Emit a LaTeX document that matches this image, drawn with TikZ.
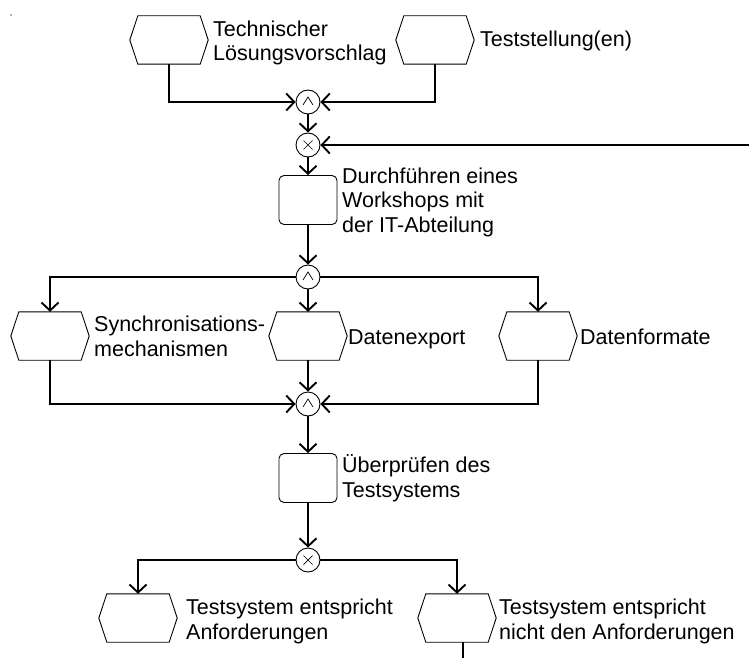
\documentclass[tikz,border=0pt]{standalone}
\usepackage{fontspec}
\setmainfont{Liberation Sans}
\usetikzlibrary{arrows.meta}
\begin{document}
\begin{tikzpicture}[x=1pt,y=-1pt,
  conn/.style={line width=1.9pt},
  arr/.style={-{Straight Barb[length=8pt,width=17pt]}},
  evt/.style={minimum width=78pt,minimum height=48pt,inner sep=0pt},
  evtline/.style={line width=0.9pt},
  fn/.style={draw,line width=0.9pt,rounded corners=5pt,minimum width=58pt,minimum height=49pt,inner sep=0pt},
  gate/.style={draw,line width=0.9pt,circle,minimum size=24pt,inner sep=0pt,fill=white},
  andg/.style={gate,path picture={
    \draw[line width=0.7pt]
      ([shift={(-5pt,-3pt)}]path picture bounding box.center) --
      ([shift={(0pt,5pt)}]path picture bounding box.center) --
      ([shift={(5pt,-3pt)}]path picture bounding box.center);}},
  xorg/.style={gate,path picture={
    \draw[line width=0.7pt]
      ([shift={(-4.5pt,-4.5pt)}]path picture bounding box.center) --
      ([shift={(4.5pt,4.5pt)}]path picture bounding box.center)
      ([shift={(-4.5pt,4.5pt)}]path picture bounding box.center) --
      ([shift={(4.5pt,-4.5pt)}]path picture bounding box.center);}},
  lbl/.style={anchor=base west,inner sep=0pt,align=left,font=\fontsize{21.5}{24.5}\selectfont}
]
\useasboundingbox (0,0) rectangle (749,658);
\fill[gray!60] (10,14) rectangle (12,16);

% events
\node[evt] (e1) at (169,40) {};
\node[evt] (e2) at (435,40) {};
\node[evt] (e3) at (50,336) {};
\node[evt] (e4) at (308,336) {};
\node[evt] (e5) at (538,336) {};
\node[evt] (e6) at (138,618) {};
\node[evt] (e7) at (457,618) {};
\foreach \n in {e1,e2,e3,e4,e5,e6,e7}
  \draw[evtline] (\n.west) -- ([xshift=8pt]\n.north west) -- ([xshift=-8pt]\n.north east)
    -- (\n.east) -- ([xshift=-8pt]\n.south east) -- ([xshift=8pt]\n.south west) -- cycle;

% functions
\node[fn] (f1) at (308,200) {};
\node[fn] (f2) at (308,478) {};

% connectors
\node[andg] (a1) at (308,102) {};
\node[xorg] (x1) at (308,145) {};
\node[andg] (a2) at (308,277) {};
\node[andg] (a3) at (308,404) {};
\node[xorg] (x2) at (308,560) {};

\coordinate (rin) at (749,145);
\coordinate (bout) at (463,658);

% control flow
\draw[conn,arr] (e1.south) |- (a1.west);
\draw[conn,arr] (e2.south) |- (a1.east);
\draw[conn,arr] (a1.south) -- (x1.north);
\draw[conn,arr] (rin) -- (x1.east);
\draw[conn,arr] (x1.south) -- (f1.north);
\draw[conn,arr] (f1.south) -- (a2.north);
\draw[conn,arr] (a2.west) -| (e3.north);
\draw[conn,arr] (a2.south) -- (e4.north);
\draw[conn,arr] (a2.east) -| (e5.north);
\draw[conn,arr] (e3.south) |- (a3.west);
\draw[conn,arr] (e4.south) -- (a3.north);
\draw[conn,arr] (e5.south) |- (a3.east);
\draw[conn,arr] (a3.south) -- (f2.north);
\draw[conn,arr] (f2.south) -- (x2.north);
\draw[conn,arr] (x2.west) -| (e6.north);
\draw[conn,arr] (x2.east) -| (e7.north);
\draw[conn] (e7.south -| bout) -- (bout);

% labels (anchored at the baseline of the last line)
\node[lbl] (t1) at (213,61) {Technischer\\Lösungsvorschlag};
\node[lbl] (t2) at (480,47) {Teststellung(en)};
\node[lbl] (t3) at (342,232) {Durchführen eines\\Workshops mit\\der IT-Abteilung};
\node[lbl] (t4) at (94,356) {Synchronisations-\\mechanismen};
\node[lbl] (t5) at (348,344) {Datenexport};
\node[lbl] (t6) at (580,344) {Datenformate};
\node[lbl] (t7) at (342,497) {Überprüfen des\\Testsystems};
\node[lbl] (t8) at (186,639) {Testsystem entspricht\\Anforderungen};
\node[lbl] (t9) at (499,639) {Testsystem entspricht\\nicht den Anforderungen};
\end{tikzpicture}
\end{document}
